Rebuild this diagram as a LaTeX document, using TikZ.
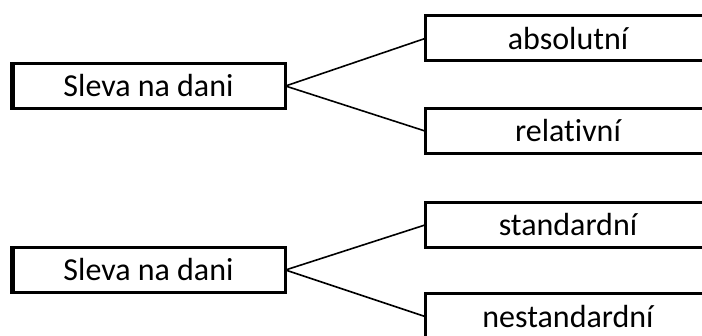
\documentclass[tikz,border=0pt]{standalone}
\usepackage{fontspec}
\setmainfont{Carlito}[RawFeature={-liga}]
\begin{document}
\begin{tikzpicture}[x=1pt,y=-1pt,
  box/.style={draw=black,line width=3pt,rectangle,inner sep=0pt,outer sep=0pt,
    minimum height=45pt,font=\fontsize{32}{36}\selectfont,text=black},
  leftbox/.style={box,minimum width=274pt},
  rightbox/.style={box,minimum width=286pt},
  link/.style={draw=black,line width=1.6pt}]
\useasboundingbox (0,0) rectangle (702,336);
\clip (0,0) rectangle (702,336);
\node[leftbox] (s1) at (148.5,86) {Sleva na dani};
\node[rightbox] (a) at (568,38.5) {absolutní};
\node[rightbox] (r) at (568,131) {relativní};
\node[leftbox] (s2) at (148.5,270) {Sleva na dani};
\node[rightbox] (st) at (568,225) {standardní};
\node[rightbox] (ns) at (568,316.5) {nestandardní};
\draw[line width=5pt] ([xshift=1pt,yshift=-1.5pt]s1.north west) -- ([xshift=1pt,yshift=1.5pt]s1.south west);
\draw[line width=5pt] ([xshift=1pt,yshift=-1.5pt]s2.north west) -- ([xshift=1pt,yshift=1.5pt]s2.south west);
\draw[link] (s1.east) -- (a.west);
\draw[link] (s1.east) -- (r.west);
\draw[link] (s2.east) -- (st.west);
\draw[link] (s2.east) -- (ns.west);
\end{tikzpicture}
\end{document}
